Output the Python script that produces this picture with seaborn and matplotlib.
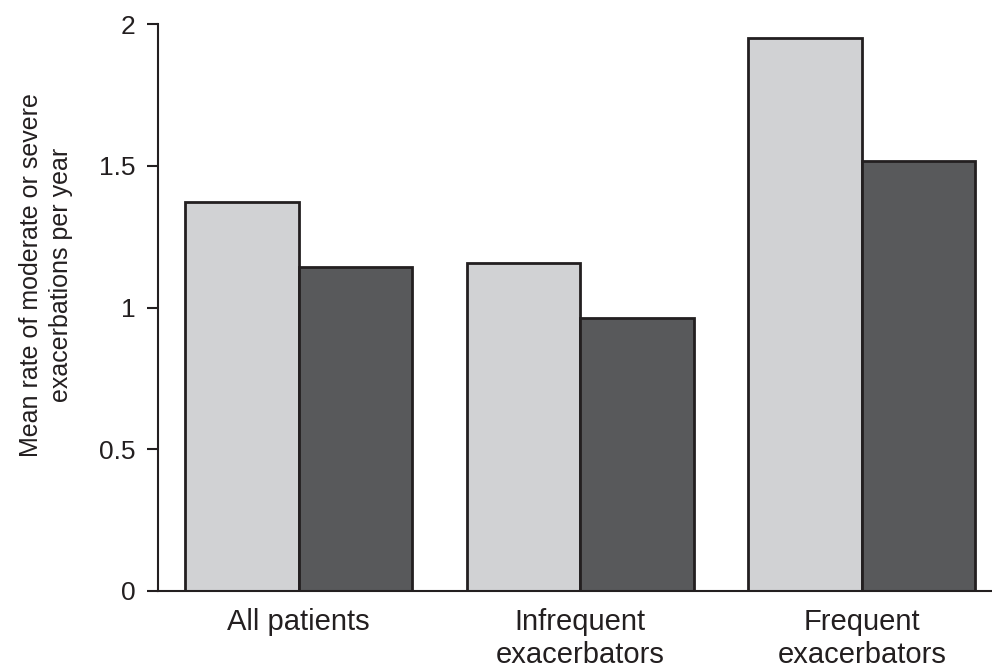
import pandas as pd
import seaborn as sns
import matplotlib.pyplot as plt
from matplotlib.ticker import FixedLocator

groups = ["All patients", "Infrequent\nexacerbators", "Frequent\nexacerbators"]
series = ["Comparator", "Treatment"]
comparator = [1.371, 1.158, 1.952]
treatment = [1.144, 0.964, 1.516]
yticks = [0, 0.5, 1, 1.5, 2]
ytick_labels = ["0", "0.5", "1", "1.5", "2"]

df = pd.DataFrame({
    "group": groups * 2,
    "series": [series[0]] * 3 + [series[1]] * 3,
    "rate": comparator + treatment,
})

sns.set_style("white")
plt.rcParams["font.family"] = ["Liberation Sans", "DejaVu Sans"]

fig = plt.figure(figsize=(9.92, 6.70), dpi=100)
ax = fig.add_axes([0.159, 0.118, 0.841, 0.846])

sns.barplot(data=df, x="group", y="rate", hue="series", order=groups,
            hue_order=series, palette=["#d1d2d4", "#58595b"], width=0.806,
            edgecolor="#231f20", linewidth=2, legend=False, ax=ax)

ax.set_xlim(-0.5, 2.462)
ax.set_ylim(0, 2)
ax.set_yticks(yticks)
ax.set_yticklabels(ytick_labels)
ax.xaxis.set_minor_locator(FixedLocator([-0.5, 0.5, 1.5]))
ax.tick_params(axis="x", which="major", length=0, pad=12, labelsize=21, labelcolor="#231f20")
ax.tick_params(axis="x", which="minor", length=8, width=1.5, color="#231f20", direction="out")
ax.tick_params(axis="y", length=8, width=1.5, color="#231f20", direction="out", pad=8,
               left=True, labelsize=19, labelcolor="#231f20")
for lbl in ax.get_xticklabels():
    lbl.set_linespacing(1.25)

ax.set_xlabel("")
ax.set_ylabel("Mean rate of moderate or severe\nexacerbations per year", fontsize=18,
              color="#231f20", linespacing=1.35)
ax.yaxis.set_label_coords(-0.101, 0.557)

for s in ["top", "right"]:
    ax.spines[s].set_visible(False)
for s in ["left", "bottom"]:
    ax.spines[s].set_color("#231f20")
    ax.spines[s].set_linewidth(1.5)

fig.savefig("out.png", dpi=100)
